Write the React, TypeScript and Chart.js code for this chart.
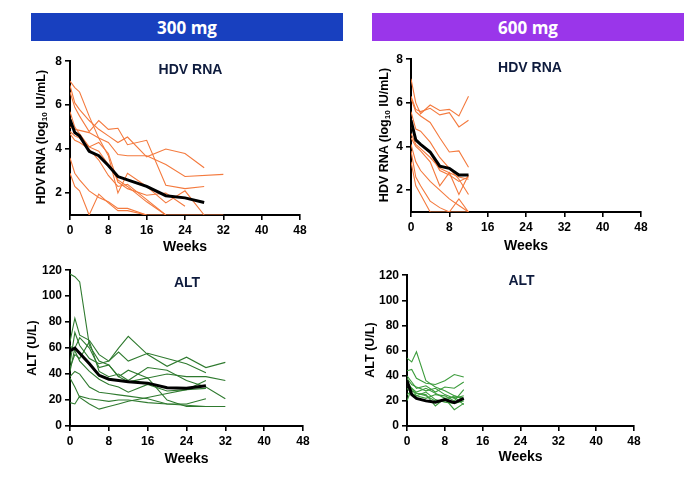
import React, { useEffect, useRef } from "react";
import { Chart, registerables } from "chart.js";

Chart.register(...registerables);
Chart.defaults.font.family = "'Liberation Sans', Arial, sans-serif";

// ---------- data ----------
const weeks300 = [0, 1, 2, 4, 6, 8, 10, 12, 16, 20, 24, 28, 32];
const weeks600 = [0, 1, 2, 4, 6, 8, 10, 12];
const xTickValues = [0, 8, 16, 24, 32, 40, 48];
const hdvTickValues = [2, 4, 6, 8];
const altTickValues = [0, 20, 40, 60, 80, 100, 120];

const hdv300Mean = [5.35, 4.75, 4.6, 3.9, 3.7, 3.25, 2.75, 2.6, 2.3, 1.88, 1.78, 1.57, null];
const hdv300S1 = [7.1, 6.8, 6.6, 5.5, 4.5, 3.7, 2.0, 2.9, 2.3, 1.55, 2.1, 1.0, null];
const hdv300S2 = [6.9, 6.1, 5.8, 5.3, 4.9, 4.6, 4.3, 4.55, 3.65, 4.0, 3.8, 3.15, null];
const hdv300S3 = [6.6, 5.9, 5.5, 4.8, 5.3, 4.9, 4.95, 4.2, 4.4, 2.35, 2.2, 2.3, null];
const hdv300S4 = [5.0, 4.9, 4.85, 4.75, 4.5, 4.3, 3.75, 3.7, 3.7, 3.3, 2.75, null, 2.85];
const hdv300S5 = [4.8, 4.6, 4.5, 4.1, 4.3, 3.8, 2.5, 2.2, 1.9, 2.0, 1.4, null, null];
const hdv300S6 = [4.7, 4.4, 4.3, 4.0, 3.5, 2.8, 2.3, 2.4, 1.7, 1.0, null, null, null];
const hdv300S7 = [5.7, 5.0, 4.7, 4.1, 3.9, 3.3, 2.6, 2.3, 1.6, 1.0, 1.0, 1.0, 1.0];
const hdv300S8 = [3.6, 2.9, 2.6, 2.1, 1.8, 1.6, 1.3, 1.3, 1.0, 1.0, null, null, null];
const hdv300S9 = [2.9, 2.3, 2.1, 1.0, 1.95, 1.55, 1.2, 1.2, 1.0, null, null, null, null];

const hdv600Mean = [5.2, 4.3, 4.1, 3.75, 3.1, 3.0, 2.7, 2.7];
const hdv600S1 = [7.1, 6.0, 5.5, 5.9, 5.65, 5.7, 5.4, 6.3];
const hdv600S2 = [6.3, 5.7, 5.6, 5.75, 5.45, 5.55, 4.9, 5.2];
const hdv600S3 = [6.2, 5.6, 5.4, 5.1, 4.4, 3.75, 3.8, 3.05];
const hdv600S4 = [5.6, 4.8, 4.7, 4.2, 3.5, 3.0, 2.5, 1.8];
const hdv600S5 = [5.0, 4.3, 4.1, 3.7, 2.9, 2.7, 2.4, 2.6];
const hdv600S6 = [4.6, 4.1, 3.9, 3.5, 3.0, 2.8, 2.6, 2.5];
const hdv600S7 = [4.4, 4.0, 3.8, 3.3, 2.2, 2.8, 1.8, 2.7];
const hdv600S8 = [4.1, 3.3, 2.9, 2.4, 2.0, 1.6, 1.3, 1.0];
const hdv600S9 = [3.8, 2.6, 2.2, 1.5, 1.2, 1.0, 1.6, 1.0];
const hdv600S10 = [3.3, 2.2, 1.8, 1.0, 1.0, 1.0, 1.0, 1.0];

const alt300Mean = [58, 60, 56, 48, 39, 36, 35, 34, 33, 29.5, 29, 31, null];
const alt300S1 = [117, 115, 111, 62, 50, 47, 38, 34, 37, 20, 15, 15, null];
const alt300S2 = [65, 83, 70, 66, 55, 50, 57, 50, 56, 52, 48, 41, null];
const alt300S3 = [48, 72, 62, 52, 48, 50, 60, 69, 55, 46, 53, 45, 49];
const alt300S4 = [42, 60, 68, 60, 45, 47, 38, 43, 37, 40, 38, 38, 35];
const alt300S5 = [45, 55, 52, 65, 42, 38, 40, 35, 45, 43, 35, 30, 21];
const alt300S6 = [62, 58, 50, 42, 36, 32, 30, 26, 32, 27, 28, 29, null];
const alt300S7 = [38, 42, 40, 30, 26, 25, 24, 23, 21, 17, 16, 15, 15];
const alt300S8 = [37, 30, 22, 17, 13, 15, 17, 19, 22, 25, 28, 35, null];
const alt300S9 = [18, 17, 23, 21, 20, 19, 20, 20, 18, 17, 17, 21, null];

const alt600Mean = [36, 25, 22, 20, 19, 21, 18.5, 22];
const alt600S1 = [54, 51, 59, 36, 31, 28, 24, 22];
const alt600S2 = [44, 45, 38, 34, 33, 36, 41, 39];
const alt600S3 = [40, 35, 30, 32, 27, 31, 30, 35];
const alt600S4 = [38, 33, 31, 28, 30, 25, 22, 24];
const alt600S5 = [35, 30, 27, 30, 26, 22, 23, 17];
const alt600S6 = [33, 28, 26, 25, 16, 22, 13, 18];
const alt600S7 = [30, 26, 24, 22, 25, 24, 20, 29];
const alt600S8 = [25, 28, 26, 24, 20, 20, 24, 21];
const alt600S9 = [20, 30, 24, 27, 21, 19, 18, 20];

// ---------- panels ----------
type Panel = {
  key: string;
  left: number; top: number; width: number; height: number;
  yAxisW: number; xAxisH: number; padTop: number; padRight: number;
  weeks: number[]; mean: (number | null)[]; subjects: (number | null)[][];
  color: string; yMin: number; yMax: number; yTicks: number[];
};

const panels: Panel[] = [
  {
    key: "hdv300", left: 35, top: 51, width: 277, height: 205, yAxisW: 35, xAxisH: 41, padTop: 10, padRight: 12,
    weeks: weeks300, mean: hdv300Mean,
    subjects: [hdv300S1, hdv300S2, hdv300S3, hdv300S4, hdv300S5, hdv300S6, hdv300S7, hdv300S8, hdv300S9],
    color: "#f47a3e", yMin: 1, yMax: 8, yTicks: hdvTickValues,
  },
  {
    key: "hdv600", left: 376, top: 49, width: 277, height: 206, yAxisW: 35, xAxisH: 43, padTop: 10, padRight: 12,
    weeks: weeks600, mean: hdv600Mean,
    subjects: [hdv600S1, hdv600S2, hdv600S3, hdv600S4, hdv600S5, hdv600S6, hdv600S7, hdv600S8, hdv600S9, hdv600S10],
    color: "#f47a3e", yMin: 1, yMax: 8, yTicks: hdvTickValues,
  },
  {
    key: "alt300", left: 35, top: 260, width: 280, height: 208, yAxisW: 35, xAxisH: 42, padTop: 10, padRight: 12,
    weeks: weeks300, mean: alt300Mean,
    subjects: [alt300S1, alt300S2, alt300S3, alt300S4, alt300S5, alt300S6, alt300S7, alt300S8, alt300S9],
    color: "#2f7a2f", yMin: 0, yMax: 120, yTicks: altTickValues,
  },
  {
    key: "alt600", left: 372, top: 265, width: 274, height: 201, yAxisW: 35, xAxisH: 40, padTop: 10, padRight: 12,
    weeks: weeks600, mean: alt600Mean,
    subjects: [alt600S1, alt600S2, alt600S3, alt600S4, alt600S5, alt600S6, alt600S7, alt600S8, alt600S9],
    color: "#3d9c3d", yMin: 0, yMax: 120, yTicks: altTickValues,
  },
];

const toPoints = (weeks: number[], vals: (number | null)[]) =>
  weeks.map((w, i) => ({ x: w, y: vals[i] }));

function PanelChart({ p }: { p: Panel }) {
  const ref = useRef<HTMLCanvasElement | null>(null);
  useEffect(() => {
    if (!ref.current) return;
    const datasets: any[] = [
      {
        data: toPoints(p.weeks, p.mean),
        borderColor: "#000000",
        borderWidth: 3,
        pointRadius: 0,
        order: -1,
        spanGaps: true,
        tension: 0,
      },
      ...p.subjects.map((s) => ({
        data: toPoints(p.weeks, s),
        borderColor: p.color,
        borderWidth: 1.1,
        pointRadius: 0,
        order: 0,
        spanGaps: true,
        tension: 0,
      })),
    ];
    const tickFont = { size: 12, weight: "bold" as const };
    const chart = new Chart(ref.current, {
      type: "line",
      data: { datasets },
      options: {
        animation: false,
        responsive: true,
        maintainAspectRatio: false,
        layout: { padding: { top: p.padTop, right: p.padRight, left: 0, bottom: 0 } },
        plugins: { legend: { display: false }, tooltip: { enabled: false }, title: { display: false } },
        scales: {
          x: {
            type: "linear",
            min: 0,
            max: 48,
            afterBuildTicks: (scale: any) => {
              scale.ticks = xTickValues.map((v) => ({ value: v }));
            },
            afterFit: (scale: any) => {
              scale.height = p.xAxisH;
            },
            ticks: { font: tickFont, color: "#000", padding: 3, maxRotation: 0, autoSkip: false },
            grid: { drawOnChartArea: false, drawTicks: true, tickLength: 5, color: "#000", lineWidth: 1.6 },
            border: { display: true, color: "#000", width: 2 },
            title: {
              display: true,
              text: "Weeks",
              color: "#000",
              font: { size: 14, weight: "bold" },
              padding: { top: 0, bottom: 0 },
            },
          },
          y: {
            type: "linear",
            min: p.yMin,
            max: p.yMax,
            afterBuildTicks: (scale: any) => {
              scale.ticks = p.yTicks.map((v) => ({ value: v }));
            },
            afterFit: (scale: any) => {
              scale.width = p.yAxisW;
            },
            ticks: { font: tickFont, color: "#000", padding: 3, autoSkip: false },
            grid: { drawOnChartArea: false, drawTicks: true, tickLength: 5, color: "#000", lineWidth: 1.6 },
            border: { display: true, color: "#000", width: 2 },
          },
        },
      },
    });
    return () => chart.destroy();
  }, [p]);
  return (
    <div style={{ position: "absolute", left: p.left, top: p.top, width: p.width, height: p.height }}>
      <canvas ref={ref} />
    </div>
  );
}

const textBase: React.CSSProperties = {
  position: "absolute",
  fontFamily: "'Liberation Sans', Arial, sans-serif",
  fontWeight: 700,
  whiteSpace: "nowrap",
  lineHeight: 1,
};

function Centered({ x, y, size, color, rotate, children }: any) {
  return (
    <div
      style={{
        ...textBase,
        left: x,
        top: y,
        fontSize: size,
        color,
        transform: `translate(-50%, -50%)${rotate ? " rotate(-90deg)" : ""}`,
      }}
    >
      {children}
    </div>
  );
}

export default function App() {
  const header: React.CSSProperties = {
    position: "absolute",
    top: 13,
    height: 28,
    color: "#ffffff",
    fontFamily: "'Open Sans', 'Noto Sans', sans-serif",
    fontWeight: 700,
    fontSize: 17,
    display: "flex",
    alignItems: "center",
    justifyContent: "center",
  };
  return (
    <div style={{ position: "fixed", left: 0, top: 0, width: 697, height: 487, background: "#ffffff", overflow: "hidden" }}>
      <div style={{ ...header, left: 31, width: 312, background: "#1840bf" }}>300 mg</div>
      <div style={{ ...header, left: 372, width: 312, background: "#9a36ea" }}>600 mg</div>

      {panels.map((p) => (
        <PanelChart key={p.key} p={p} />
      ))}

      <Centered x={190.5} y={68.5} size={14} color="#0e1b3d">HDV RNA</Centered>
      <Centered x={530} y={67} size={14} color="#0e1b3d">HDV RNA</Centered>
      <Centered x={187} y={281.5} size={14} color="#0e1b3d">ALT</Centered>
      <Centered x={521.5} y={279.5} size={14} color="#0e1b3d">ALT</Centered>

      <Centered x={42} y={137} size={12.5} color="#000" rotate>
        HDV RNA (log<sub style={{ fontSize: "0.65em", verticalAlign: "-0.15em" }}>10</sub> IU/mL)
      </Centered>
      <Centered x={385} y={135} size={12.5} color="#000" rotate>
        HDV RNA (log<sub style={{ fontSize: "0.65em", verticalAlign: "-0.15em" }}>10</sub> IU/mL)
      </Centered>
      <Centered x={32} y={348} size={12.5} color="#000" rotate>ALT (U/L)</Centered>
      <Centered x={370} y={350} size={12.5} color="#000" rotate>ALT (U/L)</Centered>
    </div>
  );
}
